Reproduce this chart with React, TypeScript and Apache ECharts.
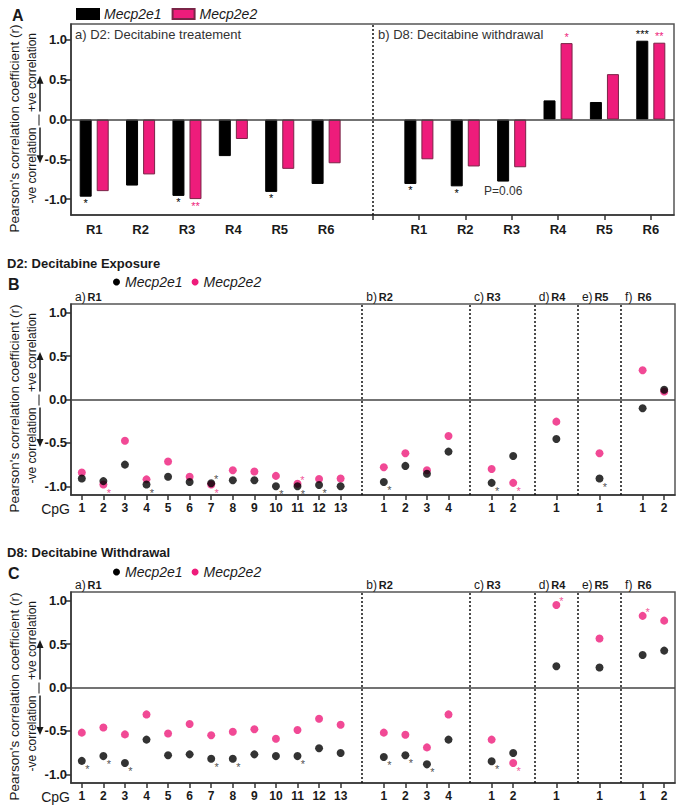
import React, { useEffect, useRef } from 'react';
import * as echarts from 'echarts';

const FONT = '"Liberation Sans", Arial, Helvetica, sans-serif';
const INK = '#1a1a1a';
const BLACK = '#000000';
const PINK = '#EE1C7B';
const PINK_EDGE = '#7a2447';

// ---------- Panel A: region-level correlations (bars) ----------
const regionCats = ['R1', 'R2', 'R3', 'R4', 'R5', 'R6', '', 'R1', 'R2', 'R3', 'R4', 'R5', 'R6'];
const d2RegionE1 = [-0.97, -0.83, -0.96, -0.46, -0.91, -0.81];
const d2RegionE2 = [-0.9, -0.69, -1.0, -0.245, -0.62, -0.55];
const d8RegionE1 = [-0.81, -0.84, -0.78, 0.24, 0.22, 0.99];
const d8RegionE2 = [-0.5, -0.59, -0.6, 0.96, 0.57, 0.965];
const d2RegionSigE1 = ['*', '', '*', '', '*', ''];
const d2RegionSigE2 = ['', '', '**', '', '', ''];
const d8RegionSigE1 = ['*', '*', 'P=0.06', '', '', '***'];
const d8RegionSigE2 = ['', '', '', '*', '', '**'];

// ---------- Panels B & C: CpG-level correlations (dots) ----------
const cpgCats = ['1', '2', '3', '4', '5', '6', '7', '8', '9', '10', '11', '12', '13', '',
  '1', '2', '3', '4', '', '1', '2', '', '1', '', '1', '', '1', '2'];
const regionTags = [['a)', 'R1'], ['b)', 'R2'], ['c)', 'R3'], ['d)', 'R4'], ['e)', 'R5'], ['f)', 'R6']];

// D2: Decitabine exposure
const d2CpgE1 = [-0.91, -0.94, -0.75, -0.98, -0.89, -0.95, -0.965, -0.93, -0.93, -1.0, -1.0, -0.985, -1.0, null,
  -0.95, -0.765, -0.855, -0.6, null, -0.96, -0.65, null, -0.455, null, -0.91, null, -0.1, 0.112];
const d2CpgE2 = [-0.84, -0.98, -0.475, -0.92, -0.715, -0.89, -0.98, -0.815, -0.83, -0.88, -0.97, -0.915, -0.91, null,
  -0.78, -0.62, -0.815, -0.42, null, -0.8, -0.96, null, -0.255, null, -0.62, null, 0.336, 0.093];
const d2StarLowE1 = [3, 9, 10, 11, 14, 19, 24];
const d2StarHighE1 = [6];
const d2StarLowE2 = [1, 6, 20];
const d2StarHighE2 = [10];

// D8: Decitabine withdrawal
const d8CpgE1 = [-0.845, -0.79, -0.87, -0.6, -0.78, -0.77, -0.82, -0.82, -0.77, -0.79, -0.79, -0.7, -0.755, null,
  -0.8, -0.78, -0.885, -0.6, null, -0.85, -0.755, null, 0.245, null, 0.23, null, 0.375, 0.425];
const d8CpgE2 = [-0.52, -0.46, -0.54, -0.31, -0.53, -0.42, -0.55, -0.51, -0.48, -0.59, -0.49, -0.36, -0.43, null,
  -0.52, -0.545, -0.69, -0.31, null, -0.6, -0.87, null, 0.95, null, 0.565, null, 0.825, 0.77];
const d8StarLowE1 = [0, 1, 2, 6, 7, 10, 14, 15, 16, 19];
const d8StarHighE1: number[] = [];
const d8StarLowE2 = [20];
const d8StarHighE2 = [22, 26];

const yTicks = [-1, -0.5, 0, 0.5, 1];

const gridA = { left: 71, top: 24, width: 603, height: 191 };
const gridB = { left: 71, top: 304, width: 604, height: 191 };
const gridC = { left: 71, top: 592, width: 604, height: 191 };

function yAxisOf(gi: number, lim: number) {
  return {
    gridIndex: gi,
    type: 'value',
    min: -lim,
    max: lim,
    axisLine: { show: true, lineStyle: { color: '#333', width: 1.5 } },
    axisTick: { show: true, length: 5, customValues: yTicks, lineStyle: { color: '#333', width: 1.5 } },
    axisLabel: {
      customValues: yTicks,
      formatter: (v: number) => v.toFixed(1),
      fontWeight: 'bold',
      fontSize: 13,
      color: INK,
      fontFamily: FONT,
      margin: 4,
    },
    splitLine: { show: false },
  };
}

function xAxisOf(gi: number, cats: string[], tickFn: (i: number, v: string) => boolean, fontSize: number, margin: number) {
  return {
    gridIndex: gi,
    type: 'category',
    data: cats,
    axisLine: { show: true, onZero: false, lineStyle: { color: '#333', width: 1.5 } },
    axisTick: { show: true, alignWithLabel: true, length: 5, interval: tickFn, lineStyle: { color: '#333', width: 1.5 } },
    axisLabel: { interval: 0, fontWeight: 'bold', fontSize, color: INK, fontFamily: FONT, margin },
    splitLine: { show: false },
  };
}

function barData(vals: (number | null)[], sigs: string[], color: string) {
  return vals.map((v, i) => {
    if (v == null) return '-';
    const s = sigs[i];
    if (!s) return v;
    const isP = s.startsWith('P');
    return {
      value: v,
      label: {
        show: true,
        formatter: s,
        position: v < 0 ? 'bottom' : 'top',
        distance: isP ? 3 : 1,
        color: isP ? '#333' : color,
        fontSize: isP ? 12 : 11,
        fontFamily: FONT,
      },
    };
  });
}

function dotData(vals: (number | null)[], low: number[], high: number[], color: string) {
  return vals.map((v, i) => {
    if (v == null) return '-';
    const lo = low.includes(i);
    const hi = high.includes(i);
    if (!lo && !hi) return v;
    return {
      value: v,
      label: {
        show: true,
        formatter: '*',
        position: lo ? [9.5, 12] : [9, 0],
        align: 'center',
        verticalAlign: 'middle',
        color,
        fontSize: 11,
        fontFamily: FONT,
      },
    };
  });
}

function refLines(cats: string[]) {
  const data: any[] = [{ yAxis: 0, lineStyle: { type: 'solid', color: '#444', width: 1.5 } }];
  cats.forEach((c, i) => {
    if (c === '') data.push({ xAxis: i, lineStyle: { type: [2, 2], color: '#111', width: 1.5 } });
  });
  return { silent: true, symbol: ['none', 'none'], label: { show: false }, data };
}

function refSeries(gi: number, cats: string[]) {
  return {
    type: 'line',
    name: 'ref' + gi,
    xAxisIndex: gi,
    yAxisIndex: gi,
    data: cats.map(() => '-'),
    showSymbol: false,
    lineStyle: { width: 0 },
    markLine: refLines(cats),
    z: 1,
  };
}

function sideDecor(g: { top: number; height: number }, lim: number) {
  const y0 = g.top + g.height / 2;
  const k = g.height / (2 * lim);
  const yP = y0 - 0.5 * k;
  const yN = y0 + 0.5 * k;
  const rot = (x: number, y: number, text: string, size: number) => ({
    type: 'text',
    x,
    y,
    rotation: Math.PI / 2,
    style: {
      text,
      x: 0,
      y: 0,
      align: 'center',
      verticalAlign: 'middle',
      textAlign: 'center',
      textVerticalAlign: 'middle',
      fontSize: size,
      fontFamily: FONT,
      fill: INK,
    },
  });
  return [
    rot(14.5, y0 + 9, "Pearson's correlation coefficient (r)", 13.5),
    rot(31.5, y0 - 47, '+ve correlation', 12),
    rot(31.5, y0 + 46, '-ve correlation', 12),
    { type: 'line', shape: { x1: 40, y1: y0 - 8, x2: 40, y2: yP + 2 }, style: { stroke: INK, lineWidth: 1.5 } },
    { type: 'polygon', shape: { points: [[40, yP - 4], [36.5, yP + 4], [43.5, yP + 4]] }, style: { fill: INK } },
    { type: 'line', shape: { x1: 40, y1: y0 + 8, x2: 40, y2: yN - 2 }, style: { stroke: INK, lineWidth: 1.5 } },
    { type: 'polygon', shape: { points: [[40, yN + 4], [36.5, yN - 4], [43.5, yN - 4]] }, style: { fill: INK } },
    { type: 'line', shape: { x1: 39, y1: y0 - 5, x2: 39, y2: y0 + 6 }, style: { stroke: INK, lineWidth: 1 } },
  ];
}

function txt(x: number, y: number, text: string, size: number, weight = 'normal', color = INK, align = 'left') {
  return {
    type: 'text',
    x,
    y,
    style: {
      text,
      x: 0,
      y: 0,
      align,
      verticalAlign: 'middle',
      textAlign: align,
      textVerticalAlign: 'middle',
      fontSize: size,
      fontWeight: weight,
      fontFamily: FONT,
      fill: color,
    },
  };
}

function regionTagTexts(g: { left: number; top: number; width: number }, cats: string[]) {
  const slot = g.width / cats.length;
  const starts = [g.left + 4];
  cats.forEach((c, i) => {
    if (c === '') starts.push(g.left + (i + 0.5) * slot + 4);
  });
  const y = g.top - 7;
  const out: any[] = [];
  regionTags.forEach((t, i) => {
    out.push(txt(starts[i], y, t[0], 12, 'normal'));
    out.push(txt(starts[i] + 12.5, y, t[1], 11, 'bold'));
  });
  return out;
}

function buildOption() {
  const series: any[] = [
    refSeries(0, regionCats),
    {
      type: 'bar',
      name: 'Mecp2e1',
      xAxisIndex: 0,
      yAxisIndex: 0,
      barWidth: 12,
      barGap: '42%',
      itemStyle: { color: BLACK, borderColor: BLACK, borderWidth: 1 },
      data: barData([...d2RegionE1, null, ...d8RegionE1], [...d2RegionSigE1, '', ...d8RegionSigE1], BLACK),
      z: 3,
    },
    {
      type: 'bar',
      name: 'Mecp2e2',
      xAxisIndex: 0,
      yAxisIndex: 0,
      barWidth: 12,
      barGap: '42%',
      itemStyle: { color: PINK, borderColor: PINK_EDGE, borderWidth: 1 },
      data: barData([...d2RegionE2, null, ...d8RegionE2], [...d2RegionSigE2, '', ...d8RegionSigE2], PINK),
      z: 3,
    },
    refSeries(1, cpgCats),
    {
      type: 'scatter',
      name: 'Mecp2e2',
      xAxisIndex: 1,
      yAxisIndex: 1,
      symbolSize: 8,
      itemStyle: { color: PINK },
      data: dotData(d2CpgE2, d2StarLowE2, d2StarHighE2, PINK),
      z: 3,
    },
    {
      type: 'scatter',
      name: 'Mecp2e1',
      xAxisIndex: 1,
      yAxisIndex: 1,
      symbolSize: 8,
      itemStyle: { color: BLACK },
      data: dotData(d2CpgE1, d2StarLowE1, d2StarHighE1, '#222'),
      z: 4,
    },
    refSeries(2, cpgCats),
    {
      type: 'scatter',
      name: 'Mecp2e2',
      xAxisIndex: 2,
      yAxisIndex: 2,
      symbolSize: 8,
      itemStyle: { color: PINK },
      data: dotData(d8CpgE2, d8StarLowE2, d8StarHighE2, PINK),
      z: 3,
    },
    {
      type: 'scatter',
      name: 'Mecp2e1',
      xAxisIndex: 2,
      yAxisIndex: 2,
      symbolSize: 8,
      itemStyle: { color: BLACK },
      data: dotData(d8CpgE1, d8StarLowE1, d8StarHighE1, '#222'),
      z: 4,
    },
  ];

  const legendText = { fontStyle: 'italic', fontSize: 14, color: INK, fontFamily: FONT };
  const dotLegend = (top: number) => ({
    left: 113,
    top,
    padding: 0,
    orient: 'horizontal',
    itemWidth: 7,
    itemHeight: 7,
    itemGap: 9,
    selectedMode: false,
    itemStyle: { borderWidth: 0 },
    textStyle: legendText,
    data: [
      { name: 'Mecp2e1', icon: 'circle', itemStyle: { color: BLACK, borderWidth: 0 } },
      { name: 'Mecp2e2', icon: 'circle', itemStyle: { color: PINK, borderWidth: 0 } },
    ],
  });

  const graphic: any[] = [
    txt(12, 15, 'A', 16, 'bold'),
    txt(8, 284, 'B', 16, 'bold'),
    txt(8, 573.5, 'C', 16, 'bold'),
    txt(7, 263, 'D2: Decitabine Exposure', 13, 'bold'),
    txt(7, 552, 'D8: Decitabine Withdrawal', 13, 'bold'),
    txt(75, 34, 'a) D2: Decitabine treatement', 13, 'normal', '#333'),
    txt(378, 34, 'b) D8: Decitabine withdrawal', 13, 'normal', '#333'),
    txt(70, gridB.top + gridB.height + 14, 'CpG', 14, 'normal', INK, 'right'),
    txt(70, gridC.top + gridC.height + 14, 'CpG', 14, 'normal', INK, 'right'),
    ...sideDecor(gridA, 1.2),
    ...sideDecor(gridB, 1.1),
    ...sideDecor(gridC, 1.1),
    ...regionTagTexts(gridB, cpgCats),
    ...regionTagTexts(gridC, cpgCats),
  ];

  return {
    animation: false,
    backgroundColor: '#ffffff',
    textStyle: { fontFamily: FONT },
    grid: [
      { ...gridA, show: true, borderColor: '#555', borderWidth: 1.5, backgroundColor: 'transparent' },
      { ...gridB, show: true, borderColor: '#555', borderWidth: 1.5, backgroundColor: 'transparent' },
      { ...gridC, show: true, borderColor: '#555', borderWidth: 1.5, backgroundColor: 'transparent' },
    ],
    xAxis: [
      xAxisOf(0, regionCats, (i: number) => i >= 6, 13, 8),
      xAxisOf(1, cpgCats, (_i: number, v: string) => v !== '', 12, 7),
      xAxisOf(2, cpgCats, (_i: number, v: string) => v !== '', 12, 7),
    ],
    yAxis: [yAxisOf(0, 1.2), yAxisOf(1, 1.1), yAxisOf(2, 1.1)],
    legend: [
      {
        left: 76,
        top: 7,
        padding: 0,
        itemWidth: 22,
        itemHeight: 10,
        itemGap: 10,
        selectedMode: false,
        textStyle: legendText,
        data: [
          { name: 'Mecp2e1', icon: 'rect' },
          { name: 'Mecp2e2', icon: 'rect' },
        ],
      },
      dotLegend(275),
      dotLegend(565),
    ],
    graphic,
    series,
  };
}

export default function App() {
  const ref = useRef<HTMLDivElement>(null);
  useEffect(() => {
    if (!ref.current) return;
    const chart = echarts.init(ref.current, null, { renderer: 'svg' });
    chart.setOption(buildOption() as any);
    return () => chart.dispose();
  }, []);
  return (
    <div
      ref={ref}
      style={{ position: 'absolute', left: 0, top: 0, width: 685, height: 812, background: '#fff' }}
    />
  );
}
